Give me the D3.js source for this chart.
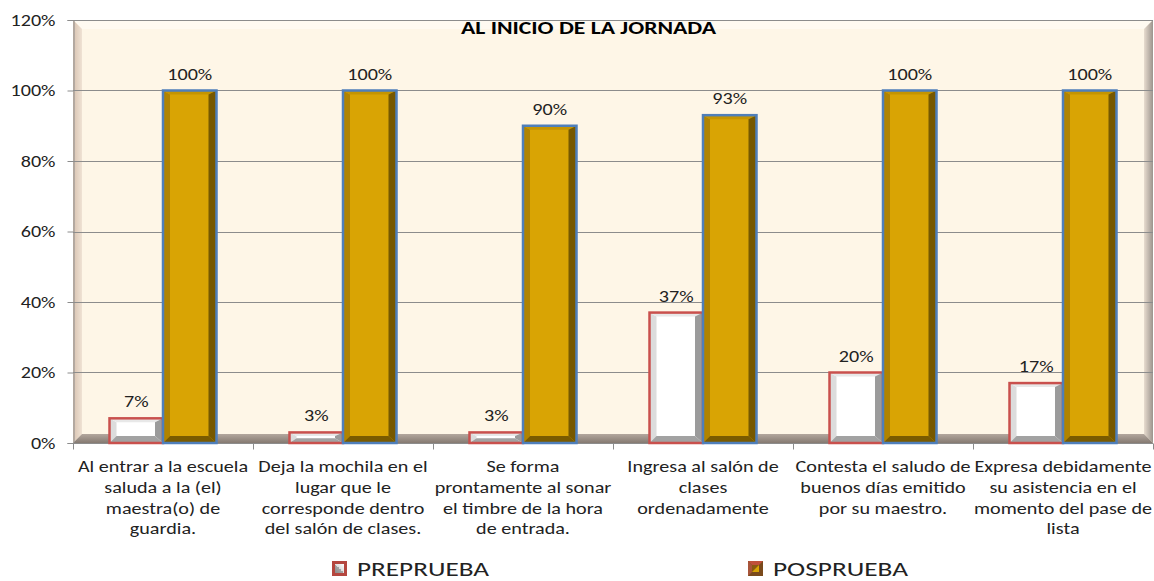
<!DOCTYPE html>
<meta charset='utf-8'>
<style type="text/css">
	body { margin: 0; background: #fff; }
	svg text { font-family: Carlito, Lato, "Open Sans", sans-serif; fill: #222; }
</style>
<body>
<div class="chart"></div>
<script src='https://cdn.jsdelivr.net/npm/d3@7/dist/d3.min.js'></script>
<script>

var categories = [
	'Al entrar a la escuela\nsaluda a la (el)\nmaestra(o) de\nguardia.',
	'Deja la mochila en el\nlugar que le\ncorresponde dentro\ndel salón de clases.',
	'Se forma\nprontamente al sonar\nel timbre de la hora\nde entrada.',
	'Ingresa al salón de\nclases\nordenadamente',
	'Contesta el saludo de\nbuenos días emitido\npor su maestro.',
	'Expresa debidamente\nsu asistencia en el\nmomento del pase de\nlista'
];
var series = ['PREPRUEBA', 'POSPRUEBA'];
var preprueba = [0.07, 0.03, 0.03, 0.37, 0.20, 0.17];
var posprueba = [1.00, 1.00, 0.90, 0.93, 1.00, 1.00];
var yTicks = [0, 0.2, 0.4, 0.6, 0.8, 1.0, 1.2];
var title = 'AL INICIO DE LA JORNADA';

var width = 1154, height = 581;
var plotLeft = 73, plotRight = 1153, plotTop = 20, plotBottom = 443;
var sx = 1.3; // the original is stretched sideways

var svg = d3.select('.chart')
	.append('svg')
	.attr('width', width)
	.attr('height', height);

var x0 = d3.scaleBand().domain(d3.range(categories.length)).range([plotLeft, plotRight]);
var x1 = d3.scaleBand().domain(series).range([36.5, 143.5]);
var y = d3.scaleLinear().domain([0, 1.2]).range([plotBottom, plotTop]);
var pct = d3.format('.0%');

// text placed at (x, y), widened by sx
function stext(g, x, yy, str, size, anchor){
	return g.append('text')
		.attr('transform', 'translate(' + x + ',' + yy + ') scale(' + sx + ',1)')
		.attr('text-anchor', anchor || 'middle')
		.attr('font-size', size)
		.text(str);
}

// styles for the beveled bars
var looks = {
	PREPRUEBA: { face: '#ffffff', l: '#dcdcdc', t: '#e8e8e8', r: '#9b9b9b', b: '#a2a2a2', stroke: '#c9504d' },
	POSPRUEBA: { face: '#d9a404', l: '#b08300', t: '#c59400', r: '#765800', b: '#7a5b00', stroke: '#4f7fba' }
};

var defs = svg.append('defs');
var lg = defs.append('linearGradient').attr('id', 'leftwall');
lg.append('stop').attr('offset', '0').attr('stop-color', '#d8c2b0');
lg.append('stop').attr('offset', '1').attr('stop-color', '#efe2d4');
var rg = defs.append('linearGradient').attr('id', 'rightwall');
rg.append('stop').attr('offset', '0').attr('stop-color', '#e8dccf');
rg.append('stop').attr('offset', '1').attr('stop-color', '#9c948d');
var fg = defs.append('linearGradient').attr('id', 'floor').attr('x1', 0).attr('x2', 0).attr('y1', 0).attr('y2', 1);
fg.append('stop').attr('offset', '0').attr('stop-color', '#b3a79e');
fg.append('stop').attr('offset', '1').attr('stop-color', '#857a72');
var pg = defs.append('linearGradient').attr('id', 'preicon').attr('x1', 1).attr('y1', 0).attr('x2', 0).attr('y2', 1);
pg.append('stop').attr('offset', '0').attr('stop-color', '#ffffff');
pg.append('stop').attr('offset', '0.5').attr('stop-color', '#dddddd');
pg.append('stop').attr('offset', '0.5').attr('stop-color', '#a5a5a5');
pg.append('stop').attr('offset', '1').attr('stop-color', '#8a8a8a');

// back wall
var d = 9;
svg.append('rect')
	.attr('x', plotLeft).attr('y', plotTop)
	.attr('width', plotRight - plotLeft).attr('height', plotBottom - plotTop)
	.attr('fill', '#fef6e7');
svg.append('polygon')
	.attr('points', [[plotLeft, plotTop], [plotRight, plotTop], [plotRight - d, plotTop + d], [plotLeft + d, plotTop + d]].join(' '))
	.attr('fill', '#fffaf1');
svg.append('polygon')
	.attr('points', [[plotLeft, plotTop], [plotLeft + d, plotTop + d], [plotLeft + d, plotBottom - d], [plotLeft, plotBottom]].join(' '))
	.attr('fill', 'url(#leftwall)');
svg.append('polygon')
	.attr('points', [[plotRight, plotTop], [plotRight, plotBottom], [plotRight - d, plotBottom - d], [plotRight - d, plotTop + d]].join(' '))
	.attr('fill', 'url(#rightwall)');
svg.append('polygon')
	.attr('points', [[plotLeft, plotBottom], [plotLeft + d, plotBottom - d], [plotRight - d, plotBottom - d], [plotRight, plotBottom]].join(' '))
	.attr('fill', 'url(#floor)');

// gridlines
svg.append('g')
	.selectAll('line')
	.data(yTicks.slice(1))
	.enter().append('line')
	.attr('x1', plotLeft).attr('x2', plotRight)
	.attr('y1', function(v){ return Math.round(y(v)) + 0.5; })
	.attr('y2', function(v){ return Math.round(y(v)) + 0.5; })
	.attr('stroke', '#8c8c8c')
	.attr('stroke-width', 1);

// y axis
var yAxis = d3.axisLeft(y)
	.tickValues(yTicks)
	.tickSize(6)
	.tickFormat('');
var ya = svg.append('g')
	.attr('transform', 'translate(' + (plotLeft + 0.5) + ',0)')
	.call(yAxis);
ya.select('.domain').attr('stroke', '#8c8c8c');
ya.selectAll('.tick line').attr('stroke', '#8c8c8c');
ya.selectAll('.tick').each(function(v){
	stext(d3.select(this), -18, 5, pct(v), 15.5, 'end');
});

// x axis
var xa = svg.append('g')
	.attr('transform', 'translate(0,' + (plotBottom + 0.5) + ')');
xa.append('line').attr('x1', plotLeft).attr('x2', plotRight).attr('stroke', '#8c8c8c');
xa.selectAll('.xt')
	.data(d3.range(categories.length + 1))
	.enter().append('line')
	.attr('class', 'xt')
	.attr('x1', function(i){ return Math.round(plotLeft + i * x0.bandwidth()) + 0.5; })
	.attr('x2', function(i){ return Math.round(plotLeft + i * x0.bandwidth()) + 0.5; })
	.attr('y1', 0).attr('y2', 6)
	.attr('stroke', '#8c8c8c');

var labels = svg.append('g');
categories.forEach(function(c, i){
	c.split('\n').forEach(function(line, k){
		stext(labels, x0(i) + x0.bandwidth() / 2, 472 + k * 20.8, line, 15.5);
	});
});

// beveled bar
function bar(g, x, w, v, look){
	var yt = y(v), yb = plotBottom, h = yb - yt;
	var bl = Math.min(7, w / 4), br = Math.min(8, w / 4);
	var bt = Math.min(4, h / 3), bb = Math.min(7, h / 2.2);
	var x2 = x + w;
	g.append('rect').attr('x', x).attr('y', yt).attr('width', w).attr('height', h).attr('fill', look.face);
	g.append('polygon').attr('fill', look.l)
		.attr('points', [[x, yt], [x + bl, yt + bt], [x + bl, yb - bb], [x, yb]].join(' '));
	g.append('polygon').attr('fill', look.t)
		.attr('points', [[x, yt], [x2, yt], [x2 - br, yt + bt], [x + bl, yt + bt]].join(' '));
	g.append('polygon').attr('fill', look.r)
		.attr('points', [[x2, yt], [x2, yb], [x2 - br, yb - bb], [x2 - br, yt + bt]].join(' '));
	g.append('polygon').attr('fill', look.b)
		.attr('points', [[x, yb], [x + bl, yb - bb], [x2 - br, yb - bb], [x2, yb]].join(' '));
	g.append('rect').attr('x', x).attr('y', yt).attr('width', w).attr('height', h)
		.attr('fill', 'none').attr('stroke', look.stroke).attr('stroke-width', 2.5);
}

var bars = svg.append('g');
var values = { PREPRUEBA: preprueba, POSPRUEBA: posprueba };
series.forEach(function(s){
	values[s].forEach(function(v, i){
		bar(bars, x0(i) + x1(s), x1.bandwidth(), v, looks[s]);
		stext(bars, x0(i) + x1(s) + x1.bandwidth() / 2, y(v) - 11, pct(v), 15.5);
	});
});

// title
svg.append('text')
	.attr('x', 461)
	.attr('y', 34)
	.attr('font-size', 17)
	.attr('font-weight', 'bold')
	.attr('textLength', 255)
	.attr('lengthAdjust', 'spacingAndGlyphs')
	.style('fill', '#000')
	.text(title);

// legend
var legendX = [332, 748];
var legendLen = [132, 135];
var legend = svg.append('g')
	.selectAll('g')
	.data(series)
	.enter().append('g')
	.attr('transform', function(s, i){ return 'translate(' + legendX[i] + ',561)'; });
legend.each(function(s, i){
	var g = d3.select(this);
	if (s === 'PREPRUEBA') {
		g.append('rect').attr('width', 15).attr('height', 15).attr('fill', '#b4463f');
		g.append('rect').attr('x', 3).attr('y', 3).attr('width', 9).attr('height', 9).attr('fill', 'url(#preicon)');
	} else {
		g.append('rect').attr('width', 15).attr('height', 15).attr('fill', '#7a4a1c');
		g.append('polygon').attr('points', '0,0 15,0 11,4 4,4').attr('fill', '#c0503a');
		g.append('polygon').attr('points', '0,0 4,4 4,11 0,15').attr('fill', '#a8553a');
		g.append('polygon').attr('points', '4,4 11,4 4,11').attr('fill', '#8a5a10');
		g.append('polygon').attr('points', '11,4 11,11 4,11').attr('fill', '#d9a404');
	}
	g.append('text')
		.attr('x', 25)
		.attr('y', 14.5)
		.attr('font-size', 20)
		.attr('textLength', legendLen[i])
		.attr('lengthAdjust', 'spacingAndGlyphs')
		.text(s);
});

</script>
</body>
</html>
